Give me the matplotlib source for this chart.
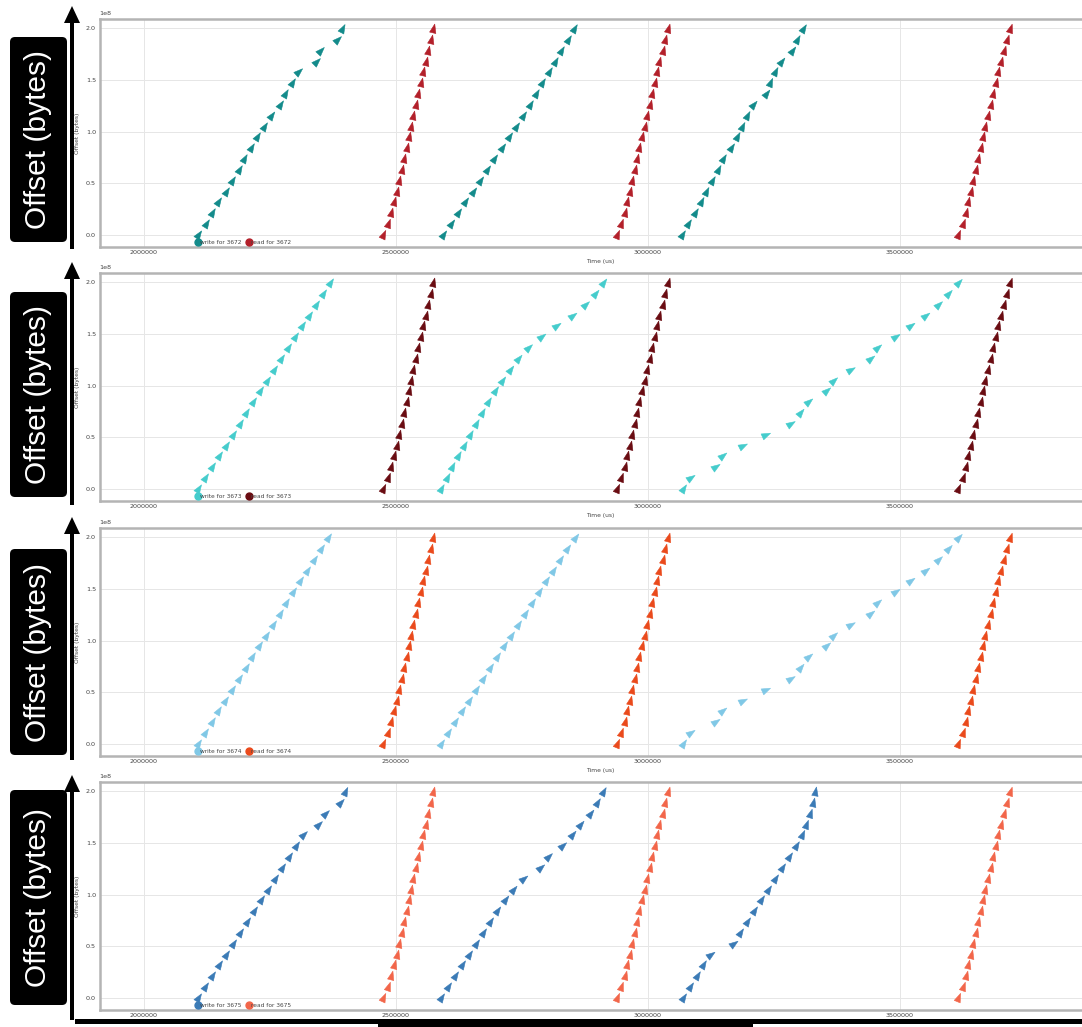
import numpy as np
import matplotlib
matplotlib.use("Agg")
import matplotlib.pyplot as plt
from matplotlib.lines import Line2D
from matplotlib.markers import MarkerStyle
from matplotlib.path import Path
from matplotlib.transforms import Affine2D
from matplotlib.patches import FancyBboxPatch, FancyArrow, Rectangle

# offsets written/read per request (bytes), same for every burst
offsets = [0, 10485760, 20971520, 31457280, 41943040, 52428800, 62914560,
           73400320, 83886080, 94371840, 104857600, 115343360, 125829120,
           136314880, 146800640, 157286400, 167772160, 178257920, 188743680,
           199229440]

pids = [3672, 3673, 3674, 3675]

# timestamps (us) of each write request, three bursts per process
write_3672 = [
    [2107700, 2122400, 2134300, 2147400, 2162100, 2174000, 2188500, 2199000,
     2212300, 2224800, 2238700, 2252000, 2269800, 2279700, 2294200, 2306100,
     2341200, 2349200, 2382300, 2393400],
    [2593800, 2608500, 2623600, 2636900, 2652100, 2666600, 2681100, 2695000,
     2709700, 2724200, 2738000, 2752500, 2765800, 2777700, 2790200, 2803500,
     2815400, 2827300, 2840600, 2853100],
    [3066800, 3079900, 3093200, 3105100, 3115000, 3126300, 3139400, 3148100,
     3164600, 3175900, 3187000, 3196900, 3208900, 3233500, 3242000, 3251900,
     3263800, 3285000, 3295000, 3308100],
]
write_3673 = [
    [2107100, 2121000, 2134900, 2148800, 2162700, 2176600, 2190500, 2202400,
     2216300, 2230100, 2244000, 2257900, 2271800, 2285700, 2299600, 2313500,
     2327400, 2341200, 2355100, 2369000],
    [2589300, 2601200, 2611100, 2623000, 2634900, 2646800, 2658700, 2670600,
     2682500, 2696400, 2710300, 2726200, 2742100, 2761900, 2787700, 2817500,
     2849200, 2875000, 2894800, 2910700],
    [3069400, 3083300, 3132900, 3146800, 3186500, 3232100, 3281700, 3301600,
     3317500, 3353200, 3367100, 3400800, 3440500, 3454400, 3490100, 3519800,
     3549600, 3575400, 3595200, 3615100],
]
write_3674 = [
    [2107100, 2121000, 2134900, 2146800, 2160700, 2174600, 2188500, 2202400,
     2214300, 2228200, 2242100, 2256000, 2269800, 2281700, 2295600, 2309500,
     2323400, 2337300, 2351200, 2365100],
    [2589300, 2603200, 2617100, 2630900, 2644800, 2658700, 2672600, 2686500,
     2700400, 2714300, 2728200, 2742100, 2756000, 2769800, 2783700, 2797600,
     2811500, 2825400, 2839300, 2855200],
    [3069400, 3083300, 3132900, 3146800, 3186500, 3232100, 3281700, 3301600,
     3317500, 3353200, 3367100, 3400800, 3440500, 3454400, 3490100, 3519800,
     3549600, 3575400, 3595200, 3615100],
]
write_3675 = [
    [2107100, 2121000, 2134900, 2148800, 2162700, 2176600, 2190500, 2204400,
     2218300, 2232100, 2246000, 2259900, 2273800, 2287700, 2301600, 2315500,
     2345200, 2359100, 2388900, 2398800],
    [2589300, 2603200, 2617100, 2630900, 2644800, 2658700, 2672600, 2686500,
     2700400, 2716300, 2732100, 2752000, 2785700, 2801600, 2829400, 2849200,
     2865100, 2885000, 2898800, 2910700],
    [3069400, 3083300, 3097200, 3109100, 3123000, 3168600, 3182500, 3196400,
     3210300, 3224200, 3238100, 3252000, 3265800, 3279700, 3293600, 3305500,
     3313500, 3321400, 3327400, 3331300],
]

# timestamps (us) of each read request
read_bursts = [
    [2474800, 2484700, 2490100, 2496000, 2501400, 2506300, 2511300, 2515900,
     2521200, 2525800, 2530300, 2534300, 2539700, 2544200, 2549600, 2554100,
     2559800, 2564200, 2568900, 2574000],
    [2938500, 2947400, 2953400, 2958300, 2963300, 2968300, 2973200, 2978200,
     2983100, 2988100, 2993100, 2998000, 3003000, 3007900, 3012900, 3017900,
     3022800, 3028800, 3033700, 3039700],
    [3615100, 3624000, 3630000, 3634900, 3639900, 3644800, 3649800, 3654800,
     3659700, 3664700, 3669600, 3674600, 3679600, 3684500, 3689500, 3694400,
     3699400, 3705400, 3711300, 3718300],
]

writes = [write_3672, write_3673, write_3674, write_3675]
write_colors = ["#138b8b", "#45cccc", "#80c8e6", "#3b7bb6"]
read_colors = ["#b3202a", "#6a0c12", "#ea4a1c", "#f2664a"]

xticks = [2000000, 2500000, 3000000, 3500000]

W, H = 1082, 1027
fig = plt.figure(figsize=(W / 100, H / 100), dpi=100)

# panel frames in pixels (top, bottom)
frames = [(19, 246.7), (273, 500.7), (528, 755.7), (782, 1009.7)]
left_px, right_px = 99.5, 1100

tri = Path([(0, 0.9), (-0.52, -0.55), (0.52, -0.55), (0, 0.9)],
           [Path.MOVETO, Path.LINETO, Path.LINETO, Path.CLOSEPOLY])


def draw_burst(ax, xs, ys, color):
    pts = ax.transData.transform(np.column_stack([xs, ys]))
    d = np.gradient(pts, axis=0)
    ang = np.degrees(np.arctan2(d[:, 1], d[:, 0]))
    for (x, y, a) in zip(xs, ys, ang):
        m = MarkerStyle(tri, transform=Affine2D().rotate_deg(a - 90))
        ax.plot([x], [y], ls="none", marker=m, ms=8, color=color,
                mec=color, mew=0.4)


for i, (top, bot) in enumerate(frames):
    ax = fig.add_axes([left_px / W, 1 - bot / H, (right_px - left_px) / W,
                       (bot - top) / H])
    ax.set_xlim(1911700, 3896800)
    ax.set_ylim(-0.113e8, 2.089e8)
    ax.set_xticks(xticks)
    ax.set_yticks([0, 0.5e8, 1.0e8, 1.5e8, 2.0e8])
    ax.ticklabel_format(axis="x", style="plain", useOffset=False)
    ax.grid(True, color="#e6e6e6", lw=0.7)
    ax.set_axisbelow(True)
    for s in ax.spines.values():
        s.set_color("#b4b4b4")
        s.set_linewidth(1.8)
    ax.tick_params(length=0, labelsize=4.6, labelcolor="#444444", pad=2.5)
    ax.yaxis.get_offset_text().set_fontsize(4.6)
    ax.yaxis.get_offset_text().set_color("#444444")
    ax.set_ylabel("Offset (bytes)", fontsize=4.3, color="#444444", labelpad=4)
    ax.set_xlabel("Time (us)", fontsize=4.3, color="#444444", labelpad=3)

    for burst in writes[i]:
        draw_burst(ax, burst, offsets, write_colors[i])
    for burst in read_bursts:
        draw_burst(ax, burst, offsets, read_colors[i])

    handles = [Line2D([], [], ls="none", marker="o", ms=5, color=write_colors[i]),
               Line2D([], [], ls="none", marker="o", ms=5, color=read_colors[i])]
    ax.legend(handles, [f"write for {pids[i]}", f"read for {pids[i]}"],
              loc="lower left", bbox_to_anchor=(0.097, 0.008), ncol=2,
              frameon=False, fontsize=4.2, handlelength=0.5,
              handletextpad=0.15, columnspacing=0.9, borderpad=0,
              borderaxespad=0, labelcolor="#444444")

# overlay with the boxed labels and arrows
ov = fig.add_axes([0, 0, 1, 1])
ov.set_xlim(0, W)
ov.set_ylim(H, 0)
ov.axis("off")

boxes = [(37, 242), (292, 497), (549, 755), (790, 1005)]
arrows = [(6, 249), (262, 505), (517, 760), (775, 1020)]
for (bt, bb), (at, ab) in zip(boxes, arrows):
    ov.add_patch(FancyBboxPatch((10, bt), 57, bb - bt,
                                boxstyle="round,pad=0,rounding_size=5",
                                fc="black", ec="none"))
    ov.text(38.5, (bt + bb) / 2, "Offset (bytes)", rotation=90, color="white",
            ha="center", va="center", fontsize=21.5, family="Liberation Sans")
    ov.add_patch(FancyArrow(72, ab, 0, at - ab, width=4, head_width=16,
                            head_length=17, length_includes_head=True,
                            fc="black", ec="none"))

ov.add_patch(Rectangle((75, 1019), 1010, 4.5, fc="black", ec="none"))
ov.add_patch(Rectangle((378, 1023), 375, 10, fc="black", ec="none"))

fig.savefig("out.png", dpi=100)
